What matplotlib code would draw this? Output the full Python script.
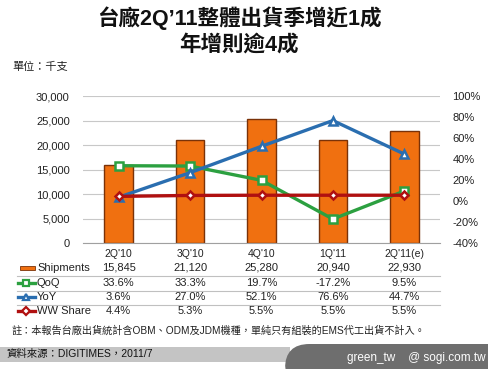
import matplotlib
matplotlib.use('Agg')
import matplotlib.pyplot as plt
import matplotlib.transforms as mtransforms
from matplotlib.lines import Line2D
from matplotlib.patches import Rectangle, FancyBboxPatch

plt.rcParams['font.family'] = ['Liberation Sans', 'Noto Sans CJK TC', 'DejaVu Sans']

quarters = ["2Q'10", "3Q'10", "4Q'10", "1Q'11", "2Q'11(e)"]
shipments = [15845, 21120, 25280, 20940, 22930]
qoq = [33.6, 33.3, 19.7, -17.2, 9.5]
yoy = [3.6, 27.0, 52.1, 76.6, 44.7]
ww_share = [4.4, 5.3, 5.5, 5.5, 5.5]

ship_labels = ['15,845', '21,120', '25,280', '20,940', '22,930']
qoq_labels = ['33.6%', '33.3%', '19.7%', '-17.2%', '9.5%']
yoy_labels = ['3.6%', '27.0%', '52.1%', '76.6%', '44.7%']
ww_labels = ['4.4%', '5.3%', '5.5%', '5.5%', '5.5%']

W, H = 489, 369
fig = plt.figure(figsize=(W / 100, H / 100), dpi=100)
fig.patch.set_facecolor('white')

def fy(y):
    return 1 - y / H

def fx(x):
    return x / W

ax = fig.add_axes([fx(83), fy(243), fx(440) - fx(83), fy(96) - fy(243)])
x = list(range(len(quarters)))

ax.bar(x, shipments, width=0.4, color='#F07010', edgecolor='#7A3208', linewidth=1.0, zorder=2)
ax.set_ylim(0, 30000)
ax.set_xlim(-0.5, 4.5)
ax.set_yticks(range(0, 30001, 5000))
ax.set_yticklabels(['{:,}'.format(v) for v in range(0, 30001, 5000)], fontsize=8, color='#222222')
ax.set_xticks(x)
ax.set_xticklabels(quarters, fontsize=7.5, color='#222222')
ax.tick_params(length=0, pad=4)
ax.tick_params(axis='y', pad=9.5)
ax.grid(axis='y', color='#C8C8C8', linewidth=0.8, zorder=0)
ax.set_axisbelow(True)
for s in ['top', 'left', 'right']:
    ax.spines[s].set_visible(False)
ax.spines['bottom'].set_color('#A0A0A0')

ax2 = ax.twinx()
ax2.set_ylim(-40, 100)
ax2.set_yticks(range(-40, 101, 20))
ax2.set_yticklabels(['{}%'.format(v) for v in range(-40, 101, 20)], fontsize=8, color='#222222')
ax2.tick_params(length=0, pad=9)
for s in ['top', 'left', 'right', 'bottom']:
    ax2.spines[s].set_visible(False)

green = '#2CA040'
blue = '#2A6EB0'
red = '#B01010'
ax2.plot(x, qoq, color=green, linewidth=2.4, marker='s', markersize=5.5,
         markerfacecolor='white', markeredgecolor=green, markeredgewidth=1.8, zorder=3)
ax2.plot(x, yoy, color=blue, linewidth=2.4, marker='^', markersize=5.5,
         markerfacecolor='white', markeredgecolor=blue, markeredgewidth=1.8, zorder=4)
ax2.plot(x, ww_share, color=red, linewidth=2.4, marker='D', markersize=4.5,
         markerfacecolor='white', markeredgecolor=red, markeredgewidth=1.8, zorder=5)

# titles
fig.text(fx(239), fy(18), '台廠2Q’11整體出貨季增近1成', fontsize=15.5, fontweight='bold',
         ha='center', va='center', color='#111111')
fig.text(fx(239), fy(45), '年增則逾4成', fontsize=15.5, fontweight='bold',
         ha='center', va='center', color='#111111')
fig.text(fx(12), fy(67), '單位：千支', fontsize=8, ha='left', va='center', color='#222222')

# data table
trans = mtransforms.blended_transform_factory(ax.transData, fig.transFigure)
rows = [('Shipments', ship_labels, 268), ('QoQ', qoq_labels, 283),
        ('YoY', yoy_labels, 297), ('WW Share', ww_labels, 311)]
for name, labels, yy in rows:
    fig.text(fx(37), fy(yy), name, fontsize=8, ha='left', va='center', color='#222222')
    for i, lab in enumerate(labels):
        fig.text(i, fy(yy), lab, fontsize=8, ha='center', va='center', color='#222222',
                 transform=trans)

for yy in [276, 290.5, 304.5]:
    fig.add_artist(Line2D([fx(17), fx(440)], [fy(yy), fy(yy)], color='#C0C0C0', linewidth=0.8))

fig.add_artist(Rectangle((fx(20), fy(270)), fx(15) - fx(0), fy(266) - fy(270),
                         facecolor='#F07010', edgecolor='#7A3208', linewidth=0.6))
for (yy, col, mk, ms) in [(283, green, 's', 4.5), (297, blue, '^', 4.5), (311, red, 'D', 3.8)]:
    fig.add_artist(Line2D([fx(18), fx(35)], [fy(yy), fy(yy)], color=col, linewidth=2.4))
    fig.add_artist(Line2D([fx(26.5)], [fy(yy)], color=col, marker=mk, markersize=ms,
                          markerfacecolor='white', markeredgecolor=col, markeredgewidth=1.6))

fig.text(fx(12), fy(331), '註：本報告台廠出貨統計含OBM、ODM及JDM機種，單純只有組裝的EMS代工出貨不計入。',
         fontsize=7.3, ha='left', va='center', color='#222222')

# footer
fig.add_artist(Rectangle((0, fy(362)), fx(290), fy(347) - fy(362),
                         facecolor='#C4C4C4', edgecolor='none'))
fig.add_artist(FancyBboxPatch((fx(285), fy(369) - 0.05), fx(489) - fx(285) + 0.05, fy(344) - fy(369) + 0.05,
                              boxstyle='round,pad=0,rounding_size=0.05',
                              facecolor='#6E6E6E', edgecolor='none', mutation_aspect=W / H))
fig.text(fx(7), fy(354), '資料來源：DIGITIMES，2011/7', fontsize=7.5, ha='left', va='center', color='#111111')
fig.text(fx(486), fy(358), 'green_tw    @ sogi.com.tw', fontsize=8.5, ha='right', va='center', color='white')

fig.savefig('out.png', dpi=100)
